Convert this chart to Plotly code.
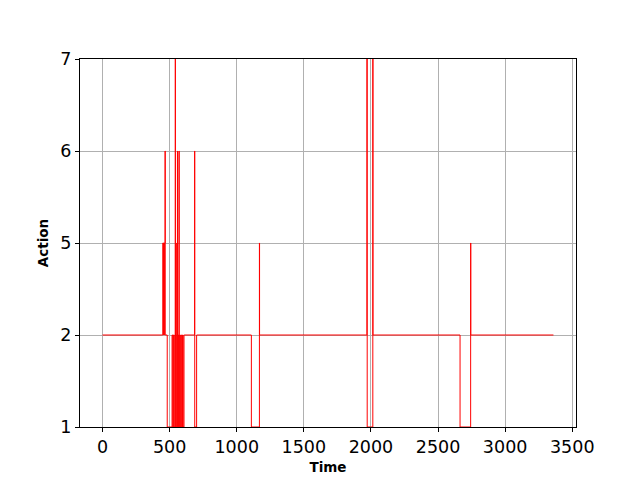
import plotly.graph_objects as go

# Run starts (time) and the action held from that time on
run_start = [0, 449, 453, 455, 459, 461, 466, 467, 482, 518, 523, 528, 532, 538,
             542, 543, 547, 548, 549, 554, 558, 559, 564, 568, 570, 571,
             576, 580, 586, 590, 596, 601, 607, 612, 686, 687, 701,
             1109, 1169, 1170, 1970, 1972, 2014, 2015, 2664, 2743, 2744, 3360]
run_action = ['2', '5', '2', '5', '2', '5', '6', '2', '1', '2', '1', '2', '1', '2',
              '7', '1', '2', '5', '1', '2', '6', '1', '2', '1', '6', '1',
              '2', '1', '2', '1', '2', '1', '2', '2', '6', '1', '2',
              '1', '5', '2', '7', '1', '7', '2', '1', '5', '2', '2']

action_order = ['1', '2', '5', '6', '7']
x_ticks = [0, 500, 1000, 1500, 2000, 2500, 3000, 3500]

fig = go.Figure()
fig.add_trace(go.Scatter(
    x=run_start, y=run_action, mode='lines', line_shape='hv',
    line=dict(color='red', width=1), showlegend=False,
))

font = dict(family='DejaVu Sans', size=17.5, color='black')
title_font = dict(family='DejaVu Sans', size=13.5, color='black', weight='bold')
fig.update_layout(
    width=640, height=480,
    margin=dict(l=72, r=72, t=51, b=61),
    paper_bgcolor='white', plot_bgcolor='white',
    font=font,
    xaxis=dict(
        range=[-168, 3528], tickvals=x_ticks, ticktext=[str(v) for v in x_ticks],
        showgrid=True, gridcolor='#b0b0b0', gridwidth=1, zeroline=False,
        showline=True, linecolor='black', linewidth=1, mirror=True,
        ticks='outside', ticklen=4, tickcolor='black', tickfont=font,
        title=dict(text='Time', font=title_font, standoff=6),
    ),
    yaxis=dict(
        type='category', categoryorder='array', categoryarray=action_order,
        range=[0, 4],
        showgrid=True, gridcolor='#b0b0b0', gridwidth=1, zeroline=False,
        showline=True, linecolor='black', linewidth=1, mirror=True,
        ticks='outside', ticklen=4, tickcolor='black', tickfont=font,
        title=dict(text='Action', font=title_font, standoff=8),
    ),
)

fig.write_html('out.html')
